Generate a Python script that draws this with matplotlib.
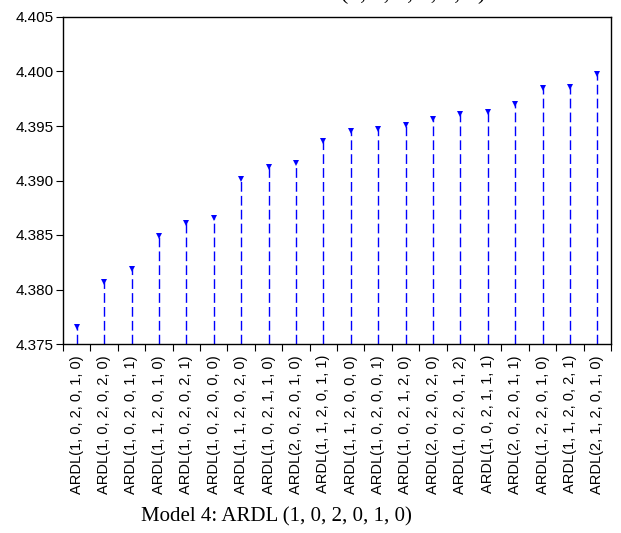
import matplotlib
matplotlib.use("Agg")
import matplotlib.pyplot as plt
import numpy as np

models = [
    "ARDL(1, 0, 2, 0, 1, 0)", "ARDL(1, 0, 2, 0, 2, 0)", "ARDL(1, 0, 2, 0, 1, 1)",
    "ARDL(1, 1, 2, 0, 1, 0)", "ARDL(1, 0, 2, 0, 2, 1)", "ARDL(1, 0, 2, 0, 0, 0)",
    "ARDL(1, 1, 2, 0, 2, 0)", "ARDL(1, 0, 2, 1, 1, 0)", "ARDL(2, 0, 2, 0, 1, 0)",
    "ARDL(1, 1, 2, 0, 1, 1)", "ARDL(1, 1, 2, 0, 0, 0)", "ARDL(1, 0, 2, 0, 0, 1)",
    "ARDL(1, 0, 2, 1, 2, 0)", "ARDL(2, 0, 2, 0, 2, 0)", "ARDL(1, 0, 2, 0, 1, 2)",
    "ARDL(1, 0, 2, 1, 1, 1)", "ARDL(2, 0, 2, 0, 1, 1)", "ARDL(1, 2, 2, 0, 1, 0)",
    "ARDL(1, 1, 2, 0, 2, 1)", "ARDL(2, 1, 2, 0, 1, 0)",
]
criterion = [
    4.3766, 4.3807, 4.3819, 4.3849, 4.3861, 4.3866, 4.3901, 4.3912, 4.3916, 4.3936,
    4.3945, 4.3947, 4.3951, 4.3956, 4.3961, 4.3963, 4.3970, 4.3985, 4.3986, 4.3998,
]
yticks = [4.375, 4.380, 4.385, 4.390, 4.395, 4.400, 4.405]
title = "Model 4: ARDL (1, 0, 2, 0, 1, 0)"
prev_title = "Model 3: ARDL (1, 0, 2, 0, 1, 0)"

sans = ["Liberation Sans", "DejaVu Sans"]
serif = ["Liberation Serif", "DejaVu Serif"]

fig = plt.figure(figsize=(6.21, 5.33), dpi=100)
ax = fig.add_axes([63/621, 1-344/533, (611-63)/621, (344-17)/533])

x = np.arange(len(models))
ymin = yticks[0]
ax.vlines(x, ymin, criterion, colors="#0000ff", linewidth=1.0,
          linestyles=(0, (7, 3)))
ax.plot(x, criterion, linestyle="none", marker="v", markersize=4,
        color="#0000ff", markeredgewidth=0)

ax.set_xlim(-0.5, len(models) - 0.5)
ax.set_ylim(yticks[0], yticks[-1])
ax.set_yticks(yticks)
ax.set_yticklabels([f"{v:.3f}" for v in yticks], fontfamily=sans, fontsize=11)
ax.set_xticks(x)
ax.set_xticklabels(models, rotation=90, fontfamily=sans, fontsize=10.5)
ax.tick_params(axis="x", which="major", length=0, pad=8)
ax.set_xticks(np.arange(-0.5, len(models), 1.0), minor=True)
ax.tick_params(axis="x", which="minor", length=5, width=0.8, direction="out")
ax.tick_params(axis="y", length=5, width=0.8, direction="out", pad=2)
for s in ax.spines.values():
    s.set_linewidth(1.0)
    s.set_color("black")

fig.text(276/621, 1-521/533, title, fontfamily=serif, fontsize=15,
         ha="center", va="baseline")
fig.text(486/621, 1+0.5/533, prev_title, fontfamily=serif, fontsize=17,
         ha="right", va="baseline")
fig.text(14/621, 1-543/533, "4.400", fontfamily=sans, fontsize=11,
         ha="left", va="baseline")

fig.savefig("out.png", dpi=100)
